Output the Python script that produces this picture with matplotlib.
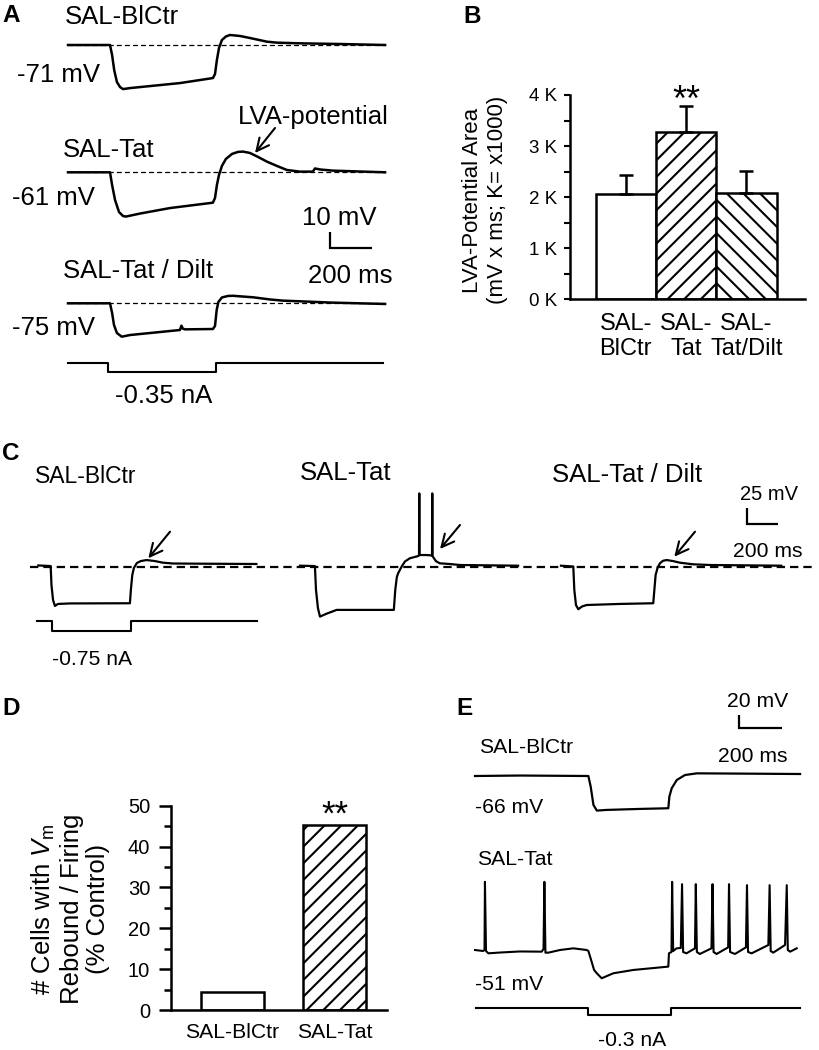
import matplotlib
matplotlib.use('Agg')
import matplotlib.pyplot as plt
import numpy as np

plt.rcParams['font.family'] = ['Liberation Sans', 'DejaVu Sans']
plt.rcParams['mathtext.fontset'] = 'custom'
plt.rcParams['mathtext.rm'] = 'Liberation Sans'
plt.rcParams['mathtext.it'] = 'Liberation Sans:italic'
plt.rcParams['hatch.linewidth'] = 1.5
plt.rcParams['lines.scale_dashes'] = False

W, H = 819, 1050

# ---------------- data ----------------
# A: membrane potential (ms, mV relative to resting level)
a_bl_t = [0, 200, 210, 220, 233, 248, 262, 295, 390, 533, 690, 700, 709, 719, 733, 752, 771, 819, 866, 947, 995, 1104, 1200, 1295, 1510]
a_bl_v = [0, 0, -6, -15, -22.2, -25.2, -26.4, -25.8, -24.6, -22.8, -19.8, -17.4, -9, -1.8, 3, 5.1, 6, 5.4, 4.2, 2, 1.4, 1, 0.8, 0.6, 0]
a_tat_t = [0, 200, 210, 224, 243, 262, 276, 343, 486, 690, 700, 709, 719, 733, 752, 781, 809, 833, 866, 905, 947, 995, 1042, 1104, 1166, 1176, 1200, 1261, 1510]
a_tat_v = [0, 0, -7.6, -16.6, -23.8, -26.2, -26.5, -24.7, -21.4, -18.2, -15.4, -7.6, -1.6, 3.8, 8, 11, 12.2, 12.4, 11.6, 9.2, 6.4, 3.8, 1.4, 0.4, 0.4, 2.3, 1.7, 1, 0]
a_dilt_t = [0, 200, 210, 219, 233, 256, 295, 390, 533, 540, 547, 557, 690, 700, 708, 716, 733, 762, 785, 881, 962, 1023, 1261, 1510]
a_dilt_v = [0, 0, -5.8, -13, -17.8, -20, -19, -17.8, -16, -13.4, -15.2, -15.6, -15.4, -13.6, -4, 0.8, 3.5, 4.4, 4.5, 3.6, 2.3, 1.6, 0.4, -0.4]
a_inj_t = [0, 192, 192, 706, 706, 1500]
a_inj_i = [0, 0, -0.35, -0.35, 0, 0]
a_rest = ['-71 mV', '-61 mV', '-75 mV']

# B: LVA-potential area
b_groups = ['SAL-\nBlCtr', 'SAL-\nTat', 'SAL-\nTat/Dilt']
b_mean = [2060, 3270, 2090]
b_sem = [370, 510, 430]
b_ticks = [0, 1000, 2000, 3000, 4000]
b_ticklabels = ['0 K', '1 K', '2 K', '3 K', '4 K']

# C: hyperpolarizing step -0.75 nA
c_bl_t = [0, 78, 83, 93, 105, 124, 200, 578, 584, 593, 603, 622, 647, 683, 735, 786, 849, 1019, 1376]
c_bl_v = [2, 1, -29, -53, -62.5, -59.3, -58.5, -58.2, -37, -13.2, -2, 5.9, 9, 10.6, 9, 6.4, 5.1, 4.8, 4.3]
c_tat_t = [0, 94, 101, 113, 126, 164, 231, 592, 601, 611, 619, 641, 662, 693, 746, 751, 752.5, 754, 794, 833, 834.5, 836, 857, 882, 945, 1008, 1376]
c_tat_v = [1.6, 1, -37, -65.7, -79.5, -75.2, -68.8, -68.8, -37, -16.4, -10.5, 0, 8.3, 13.4, 17, 18, 116.7, 18.6, 18.6, 18, 116.7, 17, 9, 5.4, 4.3, 2.7, 1.6]
c_dilt_t = [0, 77.5, 84, 94.5, 109, 133, 162, 372, 582, 589, 597, 609, 624, 643, 667, 706, 750, 834, 939, 1390]
c_dilt_v = [1.6, 0.3, -37, -61, -67.7, -63.3, -61, -59.3, -58.2, -37, -13.2, -2, 5.4, 9.4, 10.6, 9, 6.4, 3.8, 2.7, 1.6]
c_inj_t = [-10, 88, 88, 588, 588, 1380]
c_inj_i = [0, 0, -0.75, -0.75, 0, 0]

# D: cells with rebound / firing
d_groups = ['SAL-BlCtr', 'SAL-Tat']
d_pct = [4.3, 45.2]

# E: -0.3 nA step
e_bl_t = [0, 213, 536, 547, 560, 576, 623, 780, 914, 919, 930, 954, 993, 1049, 1159, 1537]
e_bl_v = [0, 0.7, 0, -16, -43.5, -52, -51, -49.5, -48.5, -31, -18.5, -6, 1.5, 4, 3.8, 3]
e_tat_t = [0, 38, 45, 47, 52, 63, 118, 213, 315, 324, 328, 333, 347, 402, 465, 528, 536, 549, 563, 576,
           599, 654, 749, 914, 917, 929, 932, 937, 953, 973, 979, 984, 1000, 1040, 1044, 1049, 1063, 1118, 1123, 1128,
           1142, 1197, 1201, 1206, 1229, 1281, 1286, 1291, 1308, 1387, 1393, 1398, 1410, 1466, 1474, 1479, 1490, 1521]
e_tat_v = [0, -1.5, 0, 102.5, -1.5, -5, -3.8, -2.2, -2.5, 1.5, 102.5, -4, -4, 0, 2.5, 0, -1.5, -15, -30, -35,
           -42.5, -35, -30, -25, -5, -3, 102.5, -1.5, 2.5, 3, 99, -3, -5, 2.5, 99, -3, -6, 2.5, 99, -3,
           -6, 4, 99, -3, -6, 4, 97.5, -3, -5, 7.5, 97.5, -1.5, -4, 7.5, 97.5, 0, -2.5, 2.5]
e_inj_t = [5, 536, 536, 926, 926, 1537]
e_inj_i = [0, 0, -0.3, -0.3, 0, 0]

# ---------------- figure ----------------
fig = plt.figure(figsize=(W / 100, H / 100), dpi=100)


def trace_ax(ox, oy, xs, ys):
    # transparent full-figure axes; data (0, 0) sits at pixel (ox, oy)
    ax = fig.add_axes([0, 0, 1, 1])
    ax.set_xlim(-ox * xs, (W - ox) * xs)
    ax.set_ylim((oy - H) * ys, oy * ys)
    ax.set_axis_off()
    return ax


def label(x, y, s, size, **kw):
    fig.text(x / W, 1 - y / H, s, fontsize=size, ha=kw.pop('ha', 'left'),
             va=kw.pop('va', 'baseline'), **kw)


def scale_bar(ax, x, y, dt, dv, lw=1.6):
    t0, v0 = ax.transData.inverted().transform((x, H - y))
    ax.plot([t0, t0, t0 + dt], [v0 + dv, v0, v0], color='k', lw=lw,
            solid_joinstyle='miter', solid_capstyle='butt')


def arrow(tail, tip):
    fig.add_artist(matplotlib.patches.FancyArrowPatch(
        (tail[0] / W, 1 - tail[1] / H), (tip[0] / W, 1 - tip[1] / H),
        transform=fig.transFigure, arrowstyle='->,head_length=0.45,head_width=0.22',
        mutation_scale=20, lw=1.5, color='k', shrinkA=0, shrinkB=0))


# ---- panel A
ms_a, mv_a, na_a = 200 / 42, 10 / 16.7, 0.35 / 9
for (t, v), oy in zip([(a_bl_t, a_bl_v), (a_tat_t, a_tat_v), (a_dilt_t, a_dilt_v)], [45, 172.3, 303.3]):
    ax = trace_ax(68, oy, ms_a, mv_a)
    ax.plot([t[0], t[-1]], [0, 0], color='k', lw=0.9, ls=(0, (3.6, 2.2)))
    ax.plot(t, v, color='k', lw=1.8)
    if oy == 45:
        scale_bar(ax, 330, 248.3, 200, 10)
ax = trace_ax(68, 363.3, ms_a, na_a)
ax.plot(a_inj_t, a_inj_i, color='k', lw=1.5)

label(2, 21.7, 'A', 17.5, fontweight='bold')
label(65, 24.5, 'SAL-BlCtr', 18.5)
label(17, 81.7, a_rest[0], 18.5)
label(63, 156.7, 'SAL-Tat', 18.5)
label(238, 124, 'LVA-potential', 18.5)
label(12, 205, a_rest[1], 18.5)
label(302, 225, '10 mV', 18.5)
label(63, 278.3, 'SAL-Tat / Dilt', 18.5)
label(308, 283.3, '200 ms', 18.5)
label(12, 335, a_rest[2], 18.5)
label(115, 403.3, '-0.35 nA', 18.5)
arrow((275, 128), (255, 153))

# ---- panel B
axb = fig.add_axes([570 / W, 1 - 299.3 / H, 235 / W, 204.3 / H])
xb = np.arange(len(b_mean))
bars = axb.bar(xb, b_mean, width=1.0, color='white', edgecolor='k', linewidth=1.8, zorder=2)
for bar, hatch in zip(bars, ['', '//', '\\\\']):
    bar.set_hatch(hatch)
axb.errorbar(xb, b_mean, yerr=[np.zeros(len(b_sem)), b_sem], fmt='none', ecolor='k',
             elinewidth=1.8, capsize=4.7, capthick=1.8, zorder=3)
axb.annotate('**', xy=(1, b_mean[1] + b_sem[1]), xytext=(0, -5), textcoords='offset pixels',
             ha='center', va='baseline', fontsize=26)
axb.set_xlim(-0.926, 2.97)
axb.set_ylim(0, 4000)
axb.set_yticks(b_ticks)
axb.set_yticklabels(b_ticklabels)
axb.set_yticks([500, 1500, 2500, 3500], minor=True)
axb.set_xticks(xb)
axb.set_xticklabels(b_groups, fontsize=17, linespacing=1.15)
axb.tick_params(axis='y', which='both', direction='out', length=4.3, width=1.5, labelsize=13.5, pad=5)
axb.tick_params(axis='x', length=0, pad=10)
for s in ['top', 'right']:
    axb.spines[s].set_visible(False)
for s in ['left', 'bottom']:
    axb.spines[s].set_linewidth(1.8)
label(463, 23, 'B', 17.5, fontweight='bold')
label(485, 200, 'LVA-Potential Area\n(mV x ms; K= x1000)', 16, ha='center', va='center',
      rotation=90, multialignment='center', linespacing=1.2)

# ---- panel C
ms_c, mv_c, na_c = 200 / 31.7, 25 / 15.7, 0.75 / 10
axc = None
for (t, v), ox in zip([(c_bl_t, c_bl_v), (c_tat_t, c_tat_v), (c_dilt_t, c_dilt_v)], [38.3, 300, 561]):
    ax = trace_ax(ox, 566.7, ms_c, mv_c)
    if axc is None:
        axc = ax
        ax.axhline(0, xmin=30 / W, xmax=816 / W, color='k', lw=1.6, ls=(0, (6, 3.6)))
    ax.plot(t, v, color='k', lw=1.6)
scale_bar(axc, 746.7, 524, 200, 25)
ax = trace_ax(38.3, 620.7, ms_c, na_c)
ax.plot(c_inj_t, c_inj_i, color='k', lw=1.5)

label(2, 460, 'C', 17.5, fontweight='bold')
label(35, 483, 'SAL-BlCtr', 16.5)
label(300, 480, 'SAL-Tat', 18.5)
label(552, 481.7, 'SAL-Tat / Dilt', 18.5)
label(740, 500, '25 mV', 14.5)
label(733, 556.7, '200 ms', 15.2)
label(52, 665, '-0.75 nA', 15.2)
arrow((170, 531.7), (148.3, 558.3))
arrow((460, 525), (440, 549))
arrow((695, 531.7), (674.3, 556.7))

# ---- panel D
axd = fig.add_axes([171 / W, 1 - 1010 / H, 216 / W, 204.3 / H])
xd = np.arange(len(d_pct))
bars = axd.bar(xd, d_pct, width=0.625, color='white', edgecolor='k', linewidth=1.8, zorder=2)
bars[1].set_hatch('//')
axd.annotate('**', xy=(1, d_pct[1]), xytext=(0, 1), textcoords='offset pixels',
             ha='center', va='baseline', fontsize=25)
axd.set_xlim(-0.603, 1.515)
axd.set_ylim(0, 50)
axd.set_yticks(np.arange(0, 51, 10))
axd.set_yticks(np.arange(5, 50, 10), minor=True)
axd.set_xticks(xd)
axd.set_xticklabels(d_groups, fontsize=15.2)
axd.tick_params(axis='y', which='major', direction='out', length=9, width=1.8, labelsize=14.5, pad=6)
axd.tick_params(axis='y', which='minor', direction='out', length=5, width=1.8)
axd.tick_params(axis='x', length=0, pad=9)
for s in ['top', 'right']:
    axd.spines[s].set_visible(False)
for s in ['left', 'bottom']:
    axd.spines[s].set_linewidth(1.8)
label(2, 715, 'D', 17.5, fontweight='bold')
label(70, 909, '# Cells with $V_\\mathrm{m}$\nRebound / Firing\n(% Control)', 18.5, ha='center',
      va='center', rotation=90, multialignment='center', linespacing=1.15)

# ---- panel E
ms_e, mv_e, na_e = 200 / 42.3, 20 / 13.3, 0.3 / 7.3
ax = trace_ax(475, 776, ms_e, mv_e)
ax.plot(e_bl_t, e_bl_v, color='k', lw=1.6)
scale_bar(ax, 739.3, 728.3, 200, 20)
ax = trace_ax(475, 950, ms_e, mv_e)
ax.plot(e_tat_t, e_tat_v, color='k', lw=1.5)
ax = trace_ax(475, 1007.7, ms_e, na_e)
ax.plot(e_inj_t, e_inj_i, color='k', lw=1.5)

label(456, 715, 'E', 17.5, fontweight='bold')
label(727, 707, '20 mV', 15.2)
label(718, 762, '200 ms', 15.2)
label(479, 753, 'SAL-BlCtr', 15.2)
label(475, 813, '-66 mV', 15.2)
label(477, 865, 'SAL-Tat', 15.2)
label(475, 990, '-51 mV', 15.2)
label(598, 1046, '-0.3 nA', 15.2)

fig.savefig('out.png', dpi=100)
